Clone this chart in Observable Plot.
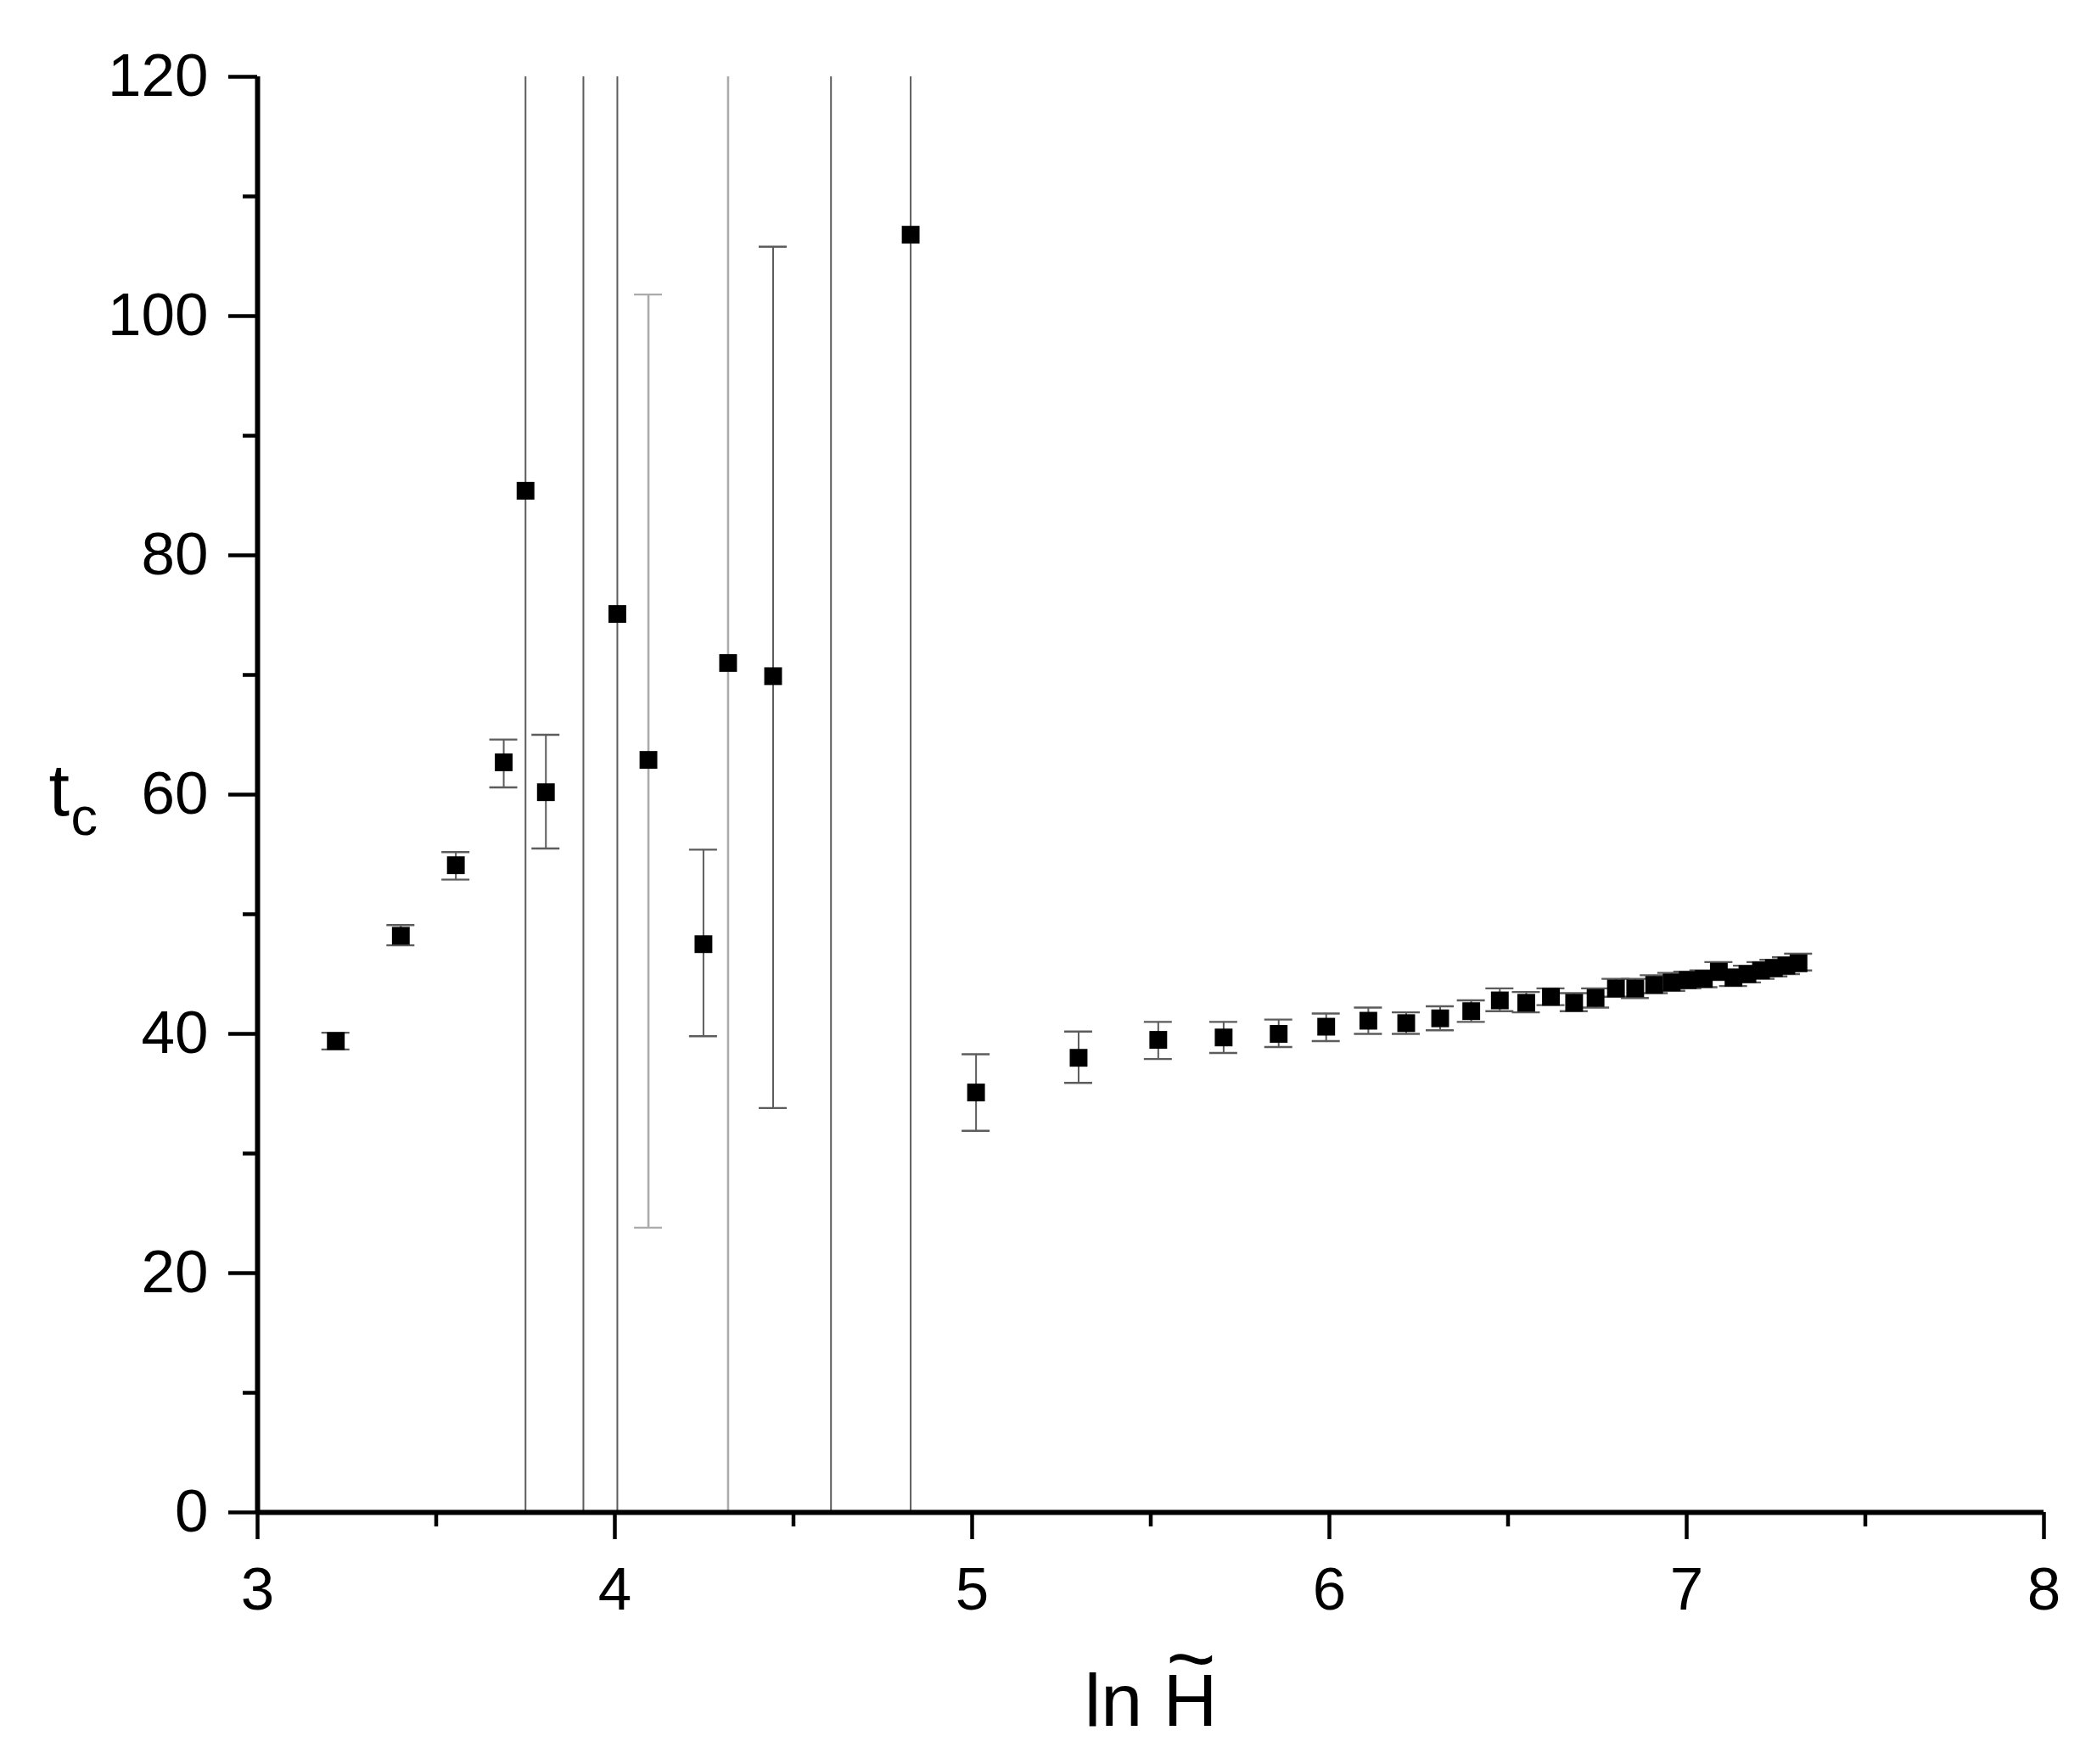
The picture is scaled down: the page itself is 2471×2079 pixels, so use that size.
<!DOCTYPE html>
<html>
<head>
<meta charset="utf-8">
<script src="https://cdn.jsdelivr.net/npm/d3@7"></script>
<script src="https://cdn.jsdelivr.net/npm/@observablehq/plot@0.6"></script>
<style>
html, body { margin: 0; padding: 0; background: #fff; }
svg { display: block; }
</style>
</head>
<body>
<div id="chart"></div>
<script>
// ---- data ----
const lnH = [3.219, 3.401, 3.555, 3.689, 3.750, 3.807, 3.912, 4.007, 4.094, 4.248, 4.317, 4.443, 4.605, 4.828,
             5.011, 5.298, 5.521, 5.704, 5.858, 5.991, 6.109, 6.215, 6.310, 6.397, 6.477, 6.551, 6.620, 6.685,
             6.745, 6.802, 6.856, 6.909, 6.958, 7.003, 7.048, 7.090, 7.131, 7.170, 7.208, 7.244, 7.279, 7.313];
// null = point lies off the chart
const tc = [39.4, 48.2, 54.1, 62.7, 85.4, 60.2, null, 75.1, 62.9, 47.5, 71.0, 69.9, null, 106.8,
            35.1, 38.0, 39.5, 39.7, 40.0, 40.6, 41.1, 40.9, 41.3, 41.9, 42.8, 42.6, 43.1, 42.6,
            43.0, 43.8, 43.8, 44.1, 44.3, 44.5, 44.6, 45.2, 44.7, 45.0, 45.3, 45.5, 45.7, 45.9];
// error bar ends; null = bar runs past the plotted range
const tcLow = [38.7, 47.4, 52.9, 60.6, null, 55.5, null, null, 23.8, 39.8, null, 33.8, null, null,
               31.9, 35.9, 37.9, 38.4, 38.9, 39.4, 40.0, 40.0, 40.3, 41.0, 41.9, 41.8, 42.4, 41.9,
               42.2, 43.1, 43.0, 43.4, 43.6, 43.8, 43.9, 44.5, 44.0, 44.3, 44.6, 44.8, 45.0, 45.3];
const tcHigh = [40.1, 49.1, 55.2, 64.6, null, 65.0, null, null, 101.8, 55.4, null, 105.8, null, null,
                38.3, 40.2, 41.0, 41.0, 41.2, 41.7, 42.2, 41.8, 42.3, 42.8, 43.8, 43.5, 43.8, 43.4,
                43.8, 44.6, 44.6, 44.9, 45.1, 45.2, 45.3, 46.0, 45.4, 45.7, 46.0, 46.2, 46.4, 46.7];

const xMajor = [3, 4, 5, 6, 7, 8];
const xMinor = [3.5, 4.5, 5.5, 6.5, 7.5];
const yMajor = [0, 20, 40, 60, 80, 100, 120];
const yMinor = [10, 30, 50, 70, 90, 110];
const xDomain = [3, 8];
const yDomain = [0, 120];
const xTitle = "ln H";
const yTitle = "t";
const yTitleSub = "c";

// ---- styling ----
const lightBars = new Set([8, 10]); // indices drawn in light grey
const W = 2471, H = 2079;
const mL = 303, mR = 63, mT = 90, mB = 297;
const pxPerX = (W - mL - mR) / (xDomain[1] - xDomain[0]);
const capHalf = 16.5 / pxPerX;
const font = "'Liberation Sans', Arial, Helvetica, sans-serif";

const data = lnH.map((x, i) => ({
  x, y: tc[i], lo: tcLow[i], hi: tcHigh[i], i,
  shade: lightBars.has(i) ? "#ababab" : "#5c5c5c",
  sw: lightBars.has(i) ? 2.6 : 2
}));
const capData = data.flatMap(d => [
  d.lo != null ? {x: d.x, y: d.lo, shade: d.shade} : null,
  d.hi != null ? {x: d.x, y: d.hi, shade: d.shade} : null
].filter(Boolean));

const chart = Plot.plot({
  width: W, height: H,
  marginLeft: mL, marginRight: mR, marginTop: mT, marginBottom: mB,
  x: {domain: xDomain},
  y: {domain: yDomain},
  style: {fontFamily: font, background: "#fff", color: "#000"},
  marks: [
    // error bars
    Plot.ruleX(data, {
      x: "x",
      y1: d => d.lo ?? yDomain[0],
      y2: d => d.hi ?? yDomain[1],
      stroke: d => d.shade,
      strokeWidth: d => d.sw
    }),
    Plot.ruleY(capData, {
      y: "y",
      x1: d => d.x - capHalf,
      x2: d => d.x + capHalf,
      stroke: d => d.shade,
      strokeWidth: 2.4
    }),
    // points
    Plot.dot(data, {x: "x", y: "y", symbol: "square", r: 11.8, fill: "#000", stroke: "none"}),
    // axes
    Plot.axisX({ticks: xMinor, tickSize: 17, strokeWidth: 4.5, tickFormat: () => "", label: null}),
    Plot.axisX({ticks: xMajor, tickSize: 32, tickPadding: 32, strokeWidth: 4.5, fontSize: 71, label: null, tickFormat: d => String(d)}),
    Plot.axisY({ticks: yMinor, tickSize: 17, strokeWidth: 4.5, tickFormat: () => "", label: null}),
    Plot.axisY({ticks: yMajor, tickSize: 34, tickPadding: 24, strokeWidth: 4.5, fontSize: 71, label: null, tickFormat: d => String(d)}),
    Plot.ruleX([xDomain[0]], {strokeWidth: 6, stroke: "#000"}),
    Plot.ruleY([yDomain[0]], {strokeWidth: 6, stroke: "#000"}),
    // axis titles
    Plot.text([xTitle], {text: d => d, frameAnchor: "bottom", lineAnchor: "bottom", dy: 251, fontSize: 88, fill: "#000", className: "xtitle"}),
    Plot.text([yTitle], {text: d => d, frameAnchor: "left", textAnchor: "start", lineAnchor: "bottom", dx: -246, dy: 24, fontSize: 88, fill: "#000", className: "ytitle"}),
    Plot.text([yTitleSub], {text: d => d, frameAnchor: "left", textAnchor: "start", lineAnchor: "bottom", dx: -220, dy: 47, fontSize: 63, fill: "#000"})
  ]
});
// put the tilde over the H (as part of the same text element)
const xt = chart.querySelector("g.xtitle text");
if (xt) {
  const ts = document.createElementNS("http://www.w3.org/2000/svg", "tspan");
  ts.setAttribute("dx", "-60");
  ts.setAttribute("dy", "-45");
  ts.setAttribute("font-size", "100");
  ts.textContent = "~";
  xt.appendChild(ts);
}
document.getElementById("chart").appendChild(chart);
</script>
</body>
</html>
